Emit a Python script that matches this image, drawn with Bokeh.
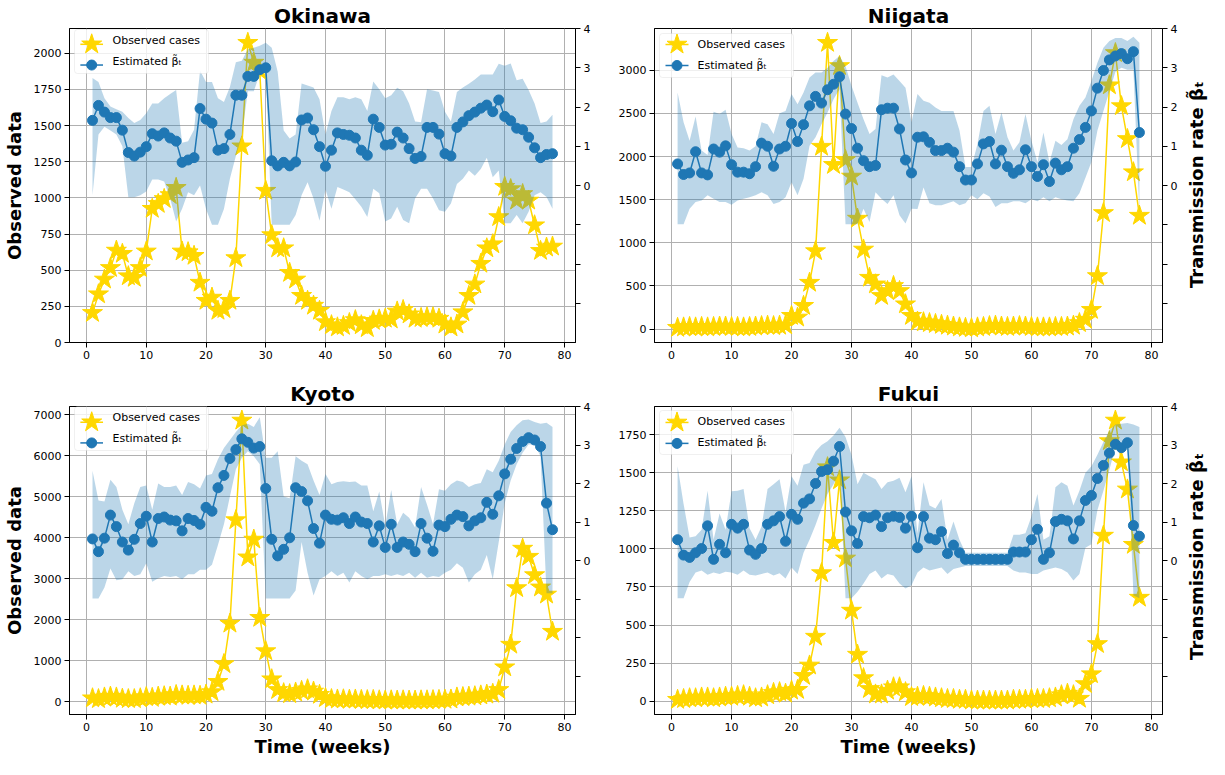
import math
from bokeh.plotting import figure
from bokeh.models import (Range1d, LinearAxis, SingleIntervalTicker, FixedTicker,
                          CustomJSTickFormatter, BoxAnnotation, Label)
from bokeh.layouts import column, row
from bokeh.embed import file_html
from bokeh.resources import INLINE

weeks = list(range(1, 79))
x_ticks = [0, 10, 20, 30, 40, 50, 60, 70, 80]
beta_ticks = [-3, -2, -1, 0, 1, 2, 3, 4]
legend_labels = ["Observed cases", "Estimated β̃ₜ"]

# ---------------- Okinawa ----------------
okinawa_cases = [205, 334, 436, 516, 636, 614, 459, 448, 516, 630,
                 925, 959, 993, 1020, 1070, 630, 625, 600, 414, 289,
                 311, 220, 232, 289, 584, 1357, 2073, 1936, 1880, 1050,
                 743, 652, 652, 482, 436, 323, 289, 255, 220, 141,
                 120, 105, 115, 135, 155, 120, 100, 150, 160, 165,
                 160, 215, 225, 195, 165, 170, 175, 175, 165, 125,
                 105, 125, 210, 323, 402, 545, 652, 680, 868, 1077,
                 1061, 982, 1027, 982, 811, 634, 657, 664]
okinawa_beta = [1.66, 2.04, 1.87, 1.73, 1.73, 1.41, 0.84, 0.75, 0.85, 0.99,
                1.32, 1.26, 1.34, 1.21, 1.13, 0.59, 0.65, 0.71, 1.96, 1.69,
                1.59, 0.90, 0.94, 1.30, 2.30, 2.30, 2.78, 2.78, 2.95, 3.00,
                0.63, 0.50, 0.59, 0.50, 0.60, 1.67, 1.72, 1.42, 0.99, 0.49,
                0.90, 1.34, 1.30, 1.28, 1.21, 0.90, 0.77, 1.69, 1.48, 1.03,
                1.05, 1.36, 1.21, 0.94, 0.69, 0.74, 1.48, 1.48, 1.31, 0.81,
                0.75, 1.48, 1.62, 1.78, 1.87, 1.97, 2.05, 1.88, 2.18, 1.76,
                1.65, 1.46, 1.42, 1.23, 0.96, 0.71, 0.79, 0.81]
okinawa_upper = [2.74, 2.64, 2.22, 2.01, 1.94, 1.88, 1.72, 1.59, 1.67, 1.84,
                 2.09, 2.09, 2.22, 2.33, 2.43, 1.09, 1.13, 1.42, 2.93, 2.64,
                 2.64, 2.22, 2.13, 2.51, 3.14, 3.18, 3.47, 3.51, 3.56, 3.64,
                 3.51, 2.90, 1.40, 1.20, 1.30, 2.60, 2.55, 2.50, 2.20, 1.30,
                 1.90, 2.25, 2.25, 2.20, 2.25, 2.20, 1.90, 2.65, 2.45, 2.22,
                 2.30, 2.49, 2.40, 2.09, 1.63, 1.61, 2.45, 2.42, 2.38, 1.88,
                 1.63, 2.38, 2.50, 2.59, 2.70, 2.83, 2.83, 2.83, 3.10, 3.05,
                 3.11, 2.68, 2.72, 2.43, 2.09, 1.59, 1.63, 1.80]
okinawa_lower = [-0.25, 1.30, 1.50, 1.40, 1.30, 1.00, -0.30, -0.30, -0.25, -0.15,
                 0.15, 0.15, 0.10, -0.33, -0.92, -0.59, -0.17, -0.25, 0.00, -0.60,
                 -1.00, -1.00, -0.60, 0.17, 0.75, 1.26, 2.40, 2.40, 2.85, 2.90,
                 -1.00, -1.00, -1.00, -1.00, -0.75, -0.25, 0.08, -0.33, -0.90, -0.10,
                 -0.59, -0.04, -0.10, -0.17, -0.35, -0.54, -0.80, -0.08, -0.20, -0.92,
                 -0.84, -0.54, -0.88, -0.96, -0.33, -0.08, -0.08, -0.33, -0.63, -0.67,
                 -0.46, 0.04, 0.17, 0.38, 0.25, 0.42, 0.71, 0.21, 0.38, -0.96,
                 -0.96, -0.75, -0.96, -0.67, -0.25, -0.17, -0.29, -0.59]

# ---------------- Niigata ----------------
niigata_cases = [15, 20, 25, 20, 25, 20, 25, 30, 30, 25,
                 25, 20, 25, 30, 35, 40, 35, 40, 45, 154,
                 135, 270, 538, 904, 2115, 3319, 1904, 3050, 1961, 1769,
                 1281, 923, 596, 519, 385, 442, 500, 442, 288, 154,
                 88, 80, 70, 60, 50, 40, 30, 20, 15, 10,
                 20, 25, 35, 40, 30, 25, 30, 35, 30, 25,
                 20, 20, 20, 25, 25, 30, 40, 70, 110, 223,
                 615, 1346, 2827, 3200, 2585, 2204, 1819, 1315]
niigata_beta = [0.55, 0.28, 0.32, 0.86, 0.32, 0.27, 0.93, 0.85, 1.01, 0.53,
                0.34, 0.34, 0.30, 0.48, 1.08, 1.00, 0.49, 0.93, 1.00, 1.58,
                1.12, 1.55, 2.03, 2.27, 2.10, 2.44, 2.58, 2.77, 1.82, 1.45,
                0.95, 0.63, 0.48, 0.51, 1.93, 1.97, 1.97, 1.44, 0.65, 0.32,
                1.23, 1.24, 1.10, 0.89, 0.89, 0.95, 0.85, 0.48, 0.14, 0.14,
                0.55, 1.06, 1.12, 0.55, 0.90, 0.48, 0.31, 0.40, 0.91, 0.48,
                0.23, 0.53, 0.10, 0.57, 0.40, 0.48, 0.95, 1.17, 1.48, 1.90,
                2.48, 2.93, 3.20, 3.30, 3.36, 3.23, 3.41, 1.35]
niigata_upper = [2.37, 1.61, 1.14, 1.76, 0.89, 0.78, 1.88, 1.82, 1.93, 1.31,
                 0.97, 0.95, 0.89, 1.00, 1.61, 1.56, 1.31, 1.84, 1.90, 2.33,
                 2.07, 2.37, 2.75, 2.88, 2.88, 3.00, 3.17, 3.30, 3.04, 2.54,
                 2.11, 1.69, 1.31, 1.44, 2.81, 2.75, 2.83, 2.66, 2.49, 1.61,
                 2.33, 2.16, 2.11, 1.99, 1.90, 1.90, 1.90, 1.40, 0.47, 0.47,
                 1.06, 1.90, 2.03, 1.31, 1.86, 1.23, 0.89, 1.10, 1.82, 1.14,
                 0.59, 1.35, 0.59, 1.14, 1.03, 1.18, 1.69, 2.03, 2.24, 2.66,
                 3.13, 3.51, 3.68, 3.76, 3.76, 3.68, 3.79, 3.64]
niigata_lower = [-0.99, -0.99, -0.59, -0.42, -0.38, -0.25, -0.34, -0.42, -0.42, -0.49,
                 -0.38, -0.34, -0.30, -0.25, -0.17, -0.25, -0.47, -0.42, -0.30, 0.08,
                 -0.25, 0.17, 1.01, 1.23, 1.56, 1.86, 2.20, 2.45, -0.99, -0.99,
                 -0.99, -0.59, -0.93, -0.17, -0.34, -0.47, -0.25, -0.76, -0.97, -0.59,
                 -0.60, -0.05, -0.45, -0.50, -0.50, -0.45, -0.40, -0.50, -0.45, -0.25,
                 -0.35, -0.20, -0.28, -0.55, -0.45, -0.45, -0.40, -0.40, -0.45, -0.35,
                 -0.40, -0.30, -0.40, -0.30, -0.35, -0.38, -0.40, -0.20, 0.20, 0.60,
                 1.40, 1.90, 2.40, 2.90, 3.00, 2.95, 2.95, -0.70]

# ---------------- Kyoto ----------------
kyoto_cases = [80, 60, 100, 120, 100, 70, 60, 60, 80, 110,
               90, 120, 130, 120, 160, 150, 140, 150, 140, 170,
               230, 482, 916, 1904, 4432, 6865, 3523, 3958, 2046, 1232,
               545, 284, 205, 182, 221, 261, 300, 245, 166, 87,
               60, 50, 55, 45, 50, 40, 35, 40, 30, 25,
               30, 25, 30, 25, 25, 30, 30, 35, 40, 45,
               50, 100, 110, 120, 130, 150, 170, 190, 284, 837,
               1390, 2772, 3736, 3539, 3089, 2789, 2615, 1706]
kyoto_beta = [0.56, 0.23, 0.58, 1.18, 0.88, 0.48, 0.27, 0.55, 0.96, 1.15,
              0.48, 1.09, 1.13, 1.05, 1.03, 0.77, 1.09, 1.04, 0.94, 1.38,
              1.28, 1.89, 2.21, 2.65, 2.88, 3.16, 3.07, 2.92, 2.96, 1.87,
              0.55, 0.12, 0.29, 0.59, 1.89, 1.79, 1.55, 0.83, 0.45, 1.18,
              1.07, 1.05, 1.11, 0.96, 1.13, 1.00, 0.96, 0.48, 0.90, 0.34,
              0.94, 0.34, 0.48, 0.42, 0.23, 0.96, 0.58, 0.24, 0.92, 0.88,
              1.07, 1.18, 1.14, 0.90, 1.03, 1.11, 1.51, 1.20, 1.68, 2.25,
              2.63, 2.91, 3.09, 3.19, 3.13, 2.96, 1.49, 0.80]
kyoto_upper = [2.33, 1.56, 1.53, 2.10, 1.91, 1.32, 0.94, 1.49, 1.91, 1.95,
               1.32, 2.00, 1.91, 1.91, 1.95, 1.70, 2.04, 1.98, 1.87, 2.21,
               2.25, 2.63, 2.92, 3.13, 3.34, 3.51, 3.55, 3.47, 3.72, 2.67,
               2.67, 2.84, 1.66, 1.62, 2.71, 2.59, 2.50, 2.08, 1.70, 2.25,
               1.98, 2.04, 2.06, 2.04, 2.05, 1.95, 1.95, 1.28, 1.79, 0.90,
               1.83, 0.94, 1.24, 1.11, 0.86, 1.91, 1.45, 0.94, 1.85, 1.81,
               1.98, 2.08, 2.04, 1.91, 1.98, 2.01, 2.37, 2.29, 2.59, 3.01,
               3.34, 3.51, 3.64, 3.66, 3.60, 3.55, 3.58, 3.47]
kyoto_lower = [-0.99, -0.99, -0.70, -0.21, -0.51, -0.49, -0.28, -0.40, -0.36, -0.07,
               -0.55, -0.46, -0.40, -0.43, -0.40, -0.49, -0.36, -0.36, -0.24, -0.24,
               -0.11, 0.40, 0.94, 1.66, 2.37, 2.67, 2.84, 2.71, 2.50, -0.99,
               -0.99, -0.99, -0.99, -0.99, -0.78, 0.48, -0.32, -0.91, -0.49, -0.40,
               -0.28, -0.40, -0.32, -0.57, -0.28, -0.40, -0.49, -0.40, -0.40, -0.36,
               -0.40, -0.36, -0.40, -0.32, -0.45, -0.32, -0.45, -0.40, -0.43, -0.32,
               -0.24, -0.07, -0.19, -0.57, -0.36, -0.24, 0.14, -0.49, 0.48, 1.49,
               2.08, 2.50, 2.80, 3.01, 3.01, 2.71, -0.85, -0.85]

# ---------------- Fukui ----------------
fukui_cases = [10, 15, 20, 20, 25, 25, 20, 25, 30, 30,
               35, 40, 30, 20, 25, 40, 55, 60, 50, 70,
               75, 167, 235, 424, 841, 1536, 1040, 1450, 937, 595,
               306, 152, 81, 45, 45, 70, 92, 92, 60, 28,
               30, 35, 30, 25, 20, 15, 15, 10, 10, 5,
               5, 5, 5, 5, 5, 5, 10, 10, 10, 15,
               15, 15, 20, 25, 40, 50, 40, 17, 113, 178,
               376, 1087, 1707, 1842, 1568, 1390, 1027, 680]
fukui_beta = [0.54, 0.14, 0.08, 0.20, 0.31, 0.90, 0.03, 0.42, 0.20, 0.94,
              0.84, 0.94, 0.27, 0.16, 0.31, 0.94, 1.03, 1.14, 0.50, 1.20,
              1.07, 1.49, 1.60, 2.00, 2.31, 2.36, 2.58, 2.96, 1.26, 0.77,
              0.44, 1.14, 1.11, 1.18, 0.88, 1.11, 1.15, 1.12, 0.84, 1.15,
              0.33, 1.14, 0.58, 0.54, 0.75, 0.18, 0.40, 0.20, 0.03, 0.03,
              0.03, 0.03, 0.03, 0.03, 0.03, 0.03, 0.22, 0.22, 0.22, 0.54,
              0.81, 0.03, 0.20, 1.01, 1.07, 1.03, 0.56, 1.03, 1.56, 1.69,
              2.13, 2.47, 2.79, 3.02, 2.93, 3.06, 0.91, 0.63]
fukui_upper = [2.45, 1.47, 0.60, 0.63, 0.80, 1.81, 0.54, 1.22, 0.80, 1.80,
               1.81, 1.86, 0.84, 0.54, 0.88, 1.86, 1.98, 2.11, 1.26, 2.19,
               1.94, 2.49, 2.53, 2.83, 3.00, 3.10, 3.25, 3.45, 3.21, 2.75,
               1.98, 2.28, 2.19, 2.11, 1.86, 2.03, 2.07, 2.15, 1.77, 2.19,
               0.71, 2.03, 1.43, 1.35, 1.60, 0.54, 1.01, 0.54, 0.20, 0.20,
               0.20, 0.20, 0.20, 0.20, 0.20, 0.20, 0.67, 0.67, 0.71, 1.14,
               1.73, 0.54, 0.63, 1.90, 2.03, 1.94, 1.43, 1.81, 2.28, 2.45,
               2.75, 3.08, 3.38, 3.53, 3.55, 3.57, 3.53, 3.47]
fukui_lower = [-0.98, -0.98, -0.56, -0.31, -0.26, -0.37, -0.31, -0.35, -0.29, -0.31,
               -0.37, -0.26, -0.37, -0.39, -0.35, -0.31, -0.39, -0.33, -0.47, -0.18,
               -0.35, 0.20, 0.54, 0.92, 1.35, 1.73, 1.98, 2.28, -0.98, -0.98,
               -0.81, -0.60, -0.35, -0.26, -0.47, -0.35, -0.39, -0.60, -0.73, -0.64,
               -0.31, -0.18, -0.26, -0.22, -0.18, -0.35, -0.22, -0.18, -0.14, -0.14,
               -0.14, -0.14, -0.14, -0.14, -0.14, -0.14, -0.26, -0.31, -0.31, -0.35,
               -0.35, -0.26, -0.22, -0.18, -0.22, -0.31, -0.52, -0.35, 0.33, 0.42,
               1.31, 1.81, 2.36, 2.96, 3.08, 3.08, -0.90, -0.98]

GOLD = "#FFD700"
BLUE = "#1f77b4"
GRID = "#b0b0b0"
FONT = "DejaVu Sans"
STAR_SIZE = 21
DOT_SIZE = 10


def style_axis(ax):
    ax.axis_line_color = "black"
    ax.major_tick_line_color = "black"
    ax.major_tick_out = 5
    ax.major_tick_in = 0
    ax.minor_tick_line_color = None
    ax.major_label_text_font = FONT
    ax.major_label_text_font_size = "11px"
    ax.major_label_text_color = "black"
    ax.major_label_standoff = 3
    ax.axis_label_text_font = FONT
    ax.axis_label_text_font_size = "18px"
    ax.axis_label_text_font_style = "bold"
    ax.axis_label_text_color = "black"


def make_panel(title, cases, beta, lower, upper, tick_interval, start_zero,
               width, height, b_left, b_right, b_top, b_bottom,
               left_label, bottom_label):
    x0 = weeks[0] - 0.05 * (weeks[-1] - weeks[0])
    x1 = weeks[-1] + 0.05 * (weeks[-1] - weeks[0])
    cmin, cmax = min(cases), max(cases)
    span = cmax - cmin
    y0 = 0 if start_zero else cmin - 0.05 * span
    y1 = cmax + 0.05 * span
    p = figure(width=width, height=height, output_backend="svg", toolbar_location=None,
               x_range=Range1d(x0, x1), y_range=Range1d(y0, y1),
               min_border_left=b_left, min_border_right=b_right,
               min_border_top=b_top, min_border_bottom=b_bottom,
               title=title)
    p.title.text_font = FONT
    p.title.text_font_size = "20px"
    p.title.text_font_style = "bold"
    p.title.text_color = "black"
    p.title.align = "center"
    p.title.standoff = 2
    p.title.offset = 0
    p.outline_line_color = "black"
    p.outline_line_width = 1
    p.outline_line_alpha = 1
    p.background_fill_color = "white"
    p.border_fill_color = "white"

    p.extra_y_ranges = {"beta": Range1d(-4, 4)}

    # observed cases
    p.line(weeks, cases, line_color=GOLD, line_width=1.5)
    p.scatter(weeks, cases, marker="star", size=STAR_SIZE, fill_color=GOLD,
              line_color=GOLD)
    # credible band + estimated beta
    p.varea(x=weeks, y1=lower, y2=upper, y_range_name="beta",
            fill_color=BLUE, fill_alpha=0.3)
    p.line(weeks, beta, y_range_name="beta", line_color=BLUE, line_width=1.5)
    p.scatter(weeks, beta, y_range_name="beta", marker="circle", size=DOT_SIZE,
              fill_color=BLUE, line_color=BLUE)

    # legend (drawn by hand so the marker samples keep their full size)
    fw = width - b_left - b_right
    fh = height - b_top - b_bottom
    box = BoxAnnotation(left=5, right=139, top=fh - 5, bottom=fh - 49,
                        left_units="screen", right_units="screen",
                        top_units="screen", bottom_units="screen",
                        fill_color="white", fill_alpha=0.8,
                        line_color="#cccccc", line_width=1, border_radius=3)
    p.add_layout(box)

    def sx(px):
        return x0 + px / fw * (x1 - x0)

    def sy(py):
        return y0 + py / fh * (y1 - y0)

    rows_y = [fh - 16, fh - 37]
    p.line([sx(11), sx(34)], [sy(rows_y[0])] * 2, line_color=GOLD, line_width=1.5,
           level="overlay")
    p.scatter([sx(22.5)], [sy(rows_y[0])], marker="star", size=STAR_SIZE,
              fill_color=GOLD, line_color=GOLD, level="overlay")
    p.line([sx(11), sx(34)], [sy(rows_y[1])] * 2, line_color=BLUE, line_width=1.5,
           level="overlay")
    p.scatter([sx(22.5)], [sy(rows_y[1])], marker="circle", size=DOT_SIZE,
              fill_color=BLUE, line_color=BLUE, level="overlay")
    for txt, ry in zip(legend_labels, rows_y):
        p.add_layout(Label(x=43, y=ry, x_units="screen", y_units="screen", text=txt,
                           text_font=FONT, text_font_size="11px", text_color="black",
                           text_baseline="middle", text_align="left"))

    # axes
    style_axis(p.xaxis[0])
    style_axis(p.yaxis[0])
    p.xaxis[0].ticker = FixedTicker(ticks=x_ticks)
    p.yaxis[0].ticker = SingleIntervalTicker(interval=tick_interval)
    if bottom_label:
        p.xaxis[0].axis_label = "Time (weeks)"
        p.xaxis[0].axis_label_standoff = 2
    if left_label:
        p.yaxis[0].axis_label = "Observed data"
        p.yaxis[0].axis_label_standoff = 6

    rax = LinearAxis(y_range_name="beta", ticker=FixedTicker(ticks=beta_ticks),
                     formatter=CustomJSTickFormatter(code="return tick >= 0 ? tick.toFixed(0) : ''"))
    style_axis(rax)
    p.add_layout(rax, "right")

    p.xgrid.grid_line_color = GRID
    p.ygrid.grid_line_color = GRID
    p.xgrid.grid_line_width = 1
    p.ygrid.grid_line_width = 1
    return p


def right_label_strip(width, height, b_top, b_bottom):
    """Narrow strip holding the right-axis title, reading from bottom to top."""
    q = figure(width=width, height=height, output_backend="svg", toolbar_location=None,
               x_range=Range1d(0, 1), y_range=Range1d(0, height), min_border=0)
    q.xaxis.visible = False
    q.yaxis.visible = False
    q.xgrid.grid_line_color = None
    q.ygrid.grid_line_color = None
    q.outline_line_color = None
    q.background_fill_color = "white"
    q.border_fill_color = "white"
    fh = height - b_top - b_bottom
    q.add_layout(Label(x=0.5, y=b_bottom + fh / 2, text="Transmission rate β̃ₜ",
                       angle=math.pi / 2, text_font=FONT, text_font_size="18px",
                       text_font_style="bold", text_color="black",
                       text_align="center", text_baseline="middle"))
    return q


TOP_H, BOT_H = 372, 387
p1 = make_panel("Okinawa", okinawa_cases, okinawa_beta, okinawa_lower, okinawa_upper,
                250, True, 600, TOP_H, 62, 25, 24, 30, True, False)
p2 = make_panel("Niigata", niigata_cases, niigata_beta, niigata_lower, niigata_upper,
                500, False, 583, TOP_H, 54, 21, 28, 30, False, False)
s2 = right_label_strip(26, TOP_H, 28, 30)
p3 = make_panel("Kyoto", kyoto_cases, kyoto_beta, kyoto_lower, kyoto_upper,
                1000, False, 600, BOT_H, 62, 25, 30, 44, True, True)
p4 = make_panel("Fukui", fukui_cases, fukui_beta, fukui_lower, fukui_upper,
                250, False, 583, BOT_H, 54, 21, 34, 44, False, True)
s4 = right_label_strip(26, BOT_H, 34, 44)

layout = column(row(p1, p2, s2), row(p3, p4, s4))
open("out.html", "w").write(file_html(layout, INLINE))
